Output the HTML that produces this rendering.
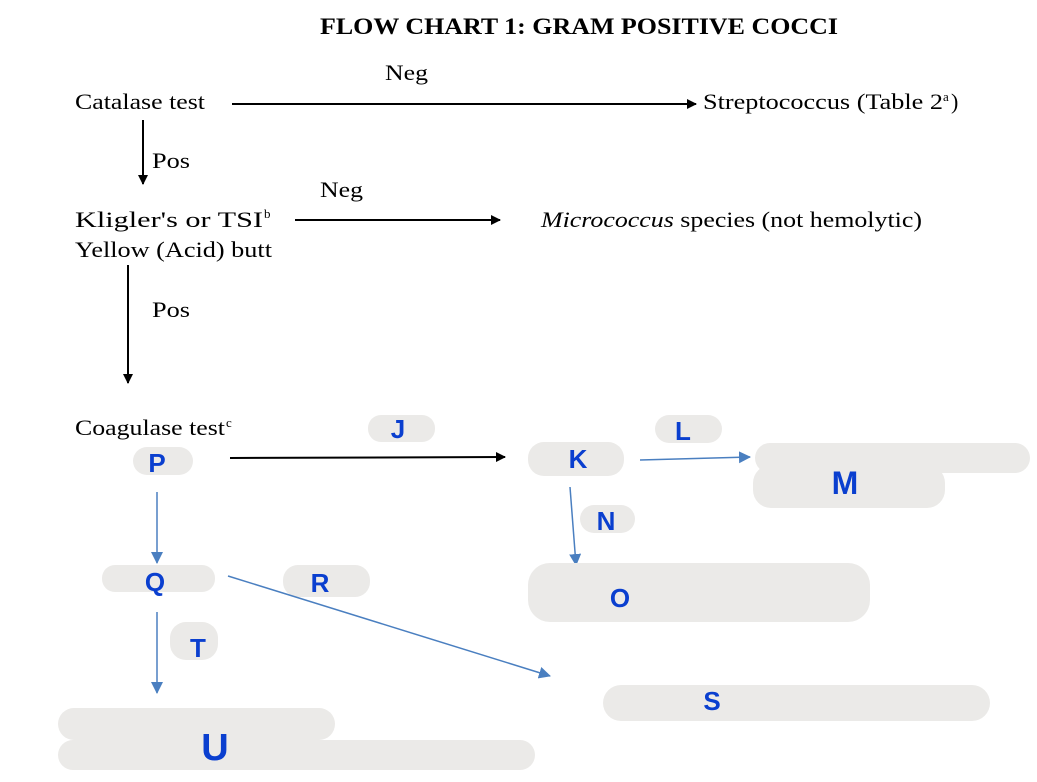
<!DOCTYPE html>
<html><head><meta charset="utf-8"><style>
html,body{margin:0;padding:0;background:#fff}
svg{display:block}
.t{font-family:"Liberation Serif",serif;font-size:22px;fill:#000}
.b{font-family:"Liberation Sans",sans-serif;font-weight:bold;fill:#0a3fcf;font-size:26px;text-anchor:middle}
.g{fill:#ebeae8}
</style></head><body>
<svg width="1037" height="782" viewBox="0 0 1037 782" xmlns="http://www.w3.org/2000/svg">
<defs>
<marker id="ak" markerWidth="10" markerHeight="10" refX="9" refY="5" orient="auto" markerUnits="userSpaceOnUse"><path d="M0,0 L10,5 L0,10 z" fill="#000"/></marker>
<marker id="ab" markerWidth="12" markerHeight="12" refX="11" refY="6" orient="auto" markerUnits="userSpaceOnUse"><path d="M0,0 L12,6 L0,12 z" fill="#4a7fc0"/></marker>
</defs>
<text x="320" y="34" textLength="518" lengthAdjust="spacingAndGlyphs" style="font-family:'Liberation Serif',serif;font-weight:bold;font-size:23px">FLOW CHART 1: GRAM POSITIVE COCCI</text>
<text class="t" x="385" y="80" textLength="43" lengthAdjust="spacingAndGlyphs">Neg</text>
<text class="t" x="75" y="109" textLength="130" lengthAdjust="spacingAndGlyphs">Catalase test</text>
<line x1="232" y1="104" x2="696" y2="104" stroke="#000" stroke-width="2" marker-end="url(#ak)"/>
<text class="t" x="703" y="109" textLength="240" lengthAdjust="spacingAndGlyphs">Streptococcus (Table 2</text>
<text class="t" x="943" y="101" style="font-size:13px">a</text>
<text class="t" x="951" y="109">)</text>
<line x1="143" y1="120" x2="143" y2="184" stroke="#000" stroke-width="2" marker-end="url(#ak)"/>
<text class="t" x="152" y="168" textLength="38" lengthAdjust="spacingAndGlyphs">Pos</text>
<text class="t" x="320" y="197" textLength="43" lengthAdjust="spacingAndGlyphs">Neg</text>
<text class="t" x="75" y="227" textLength="188" lengthAdjust="spacingAndGlyphs">Kligler's or TSI</text>
<text class="t" x="264" y="218" style="font-size:13px">b</text>
<text class="t" x="75" y="257" textLength="197" lengthAdjust="spacingAndGlyphs">Yellow (Acid) butt</text>
<line x1="295" y1="220" x2="500" y2="220" stroke="#000" stroke-width="2" marker-end="url(#ak)"/>
<text class="t" x="541" y="227" textLength="381" lengthAdjust="spacingAndGlyphs"><tspan font-style="italic">Micrococcus</tspan> species (not hemolytic)</text>
<line x1="128" y1="265" x2="128" y2="383" stroke="#000" stroke-width="2" marker-end="url(#ak)"/>
<text class="t" x="152" y="317" textLength="38" lengthAdjust="spacingAndGlyphs">Pos</text>
<text class="t" x="75" y="435" textLength="150" lengthAdjust="spacingAndGlyphs">Coagulase test</text>
<text class="t" x="226" y="427" style="font-size:13px">c</text>

<rect class="g" x="368" y="415" width="67" height="27" rx="13"/>
<rect class="g" x="133" y="447" width="60" height="28" rx="14"/>
<line x1="230" y1="458" x2="505" y2="457" stroke="#000" stroke-width="2" marker-end="url(#ak)"/>
<rect class="g" x="528" y="442" width="96" height="34" rx="16"/>
<rect class="g" x="655" y="415" width="67" height="28" rx="14"/>
<line x1="640" y1="460" x2="750" y2="457" stroke="#4a7fc0" stroke-width="1.5" marker-end="url(#ab)"/>
<rect class="g" x="755" y="443" width="275" height="30" rx="15"/>
<rect class="g" x="753" y="465" width="192" height="43" rx="18"/>
<rect class="g" x="580" y="505" width="55" height="28" rx="14"/>
<line x1="570" y1="487" x2="576" y2="565" stroke="#4a7fc0" stroke-width="1.5" marker-end="url(#ab)"/>
<rect class="g" x="528" y="563" width="342" height="59" rx="22"/>
<line x1="157" y1="492" x2="157" y2="563" stroke="#4a7fc0" stroke-width="1.5" marker-end="url(#ab)"/>
<rect class="g" x="102" y="565" width="113" height="27" rx="13"/>
<rect class="g" x="283" y="565" width="87" height="32" rx="15"/>
<line x1="228" y1="576" x2="550" y2="676" stroke="#4a7fc0" stroke-width="1.5" marker-end="url(#ab)"/>
<rect class="g" x="170" y="622" width="48" height="38" rx="16"/>
<line x1="157" y1="612" x2="157" y2="693" stroke="#4a7fc0" stroke-width="1.5" marker-end="url(#ab)"/>
<rect class="g" x="58" y="708" width="277" height="32" rx="16"/>
<rect class="g" x="58" y="740" width="477" height="30" rx="15"/>
<rect class="g" x="603" y="685" width="387" height="36" rx="18"/>

<text class="b" x="398" y="438">J</text>
<text class="b" x="157" y="472">P</text>
<text class="b" x="578" y="468">K</text>
<text class="b" x="683" y="440">L</text>
<text class="b" x="845" y="494" style="font-size:32px">M</text>
<text class="b" x="606" y="530">N</text>
<text class="b" x="620" y="607">O</text>
<text class="b" x="155" y="591">Q</text>
<text class="b" x="320" y="592">R</text>
<text class="b" x="198" y="657">T</text>
<text class="b" x="215" y="760" style="font-size:38px">U</text>
<text class="b" x="712" y="710">S</text>
</svg>
</body></html>
